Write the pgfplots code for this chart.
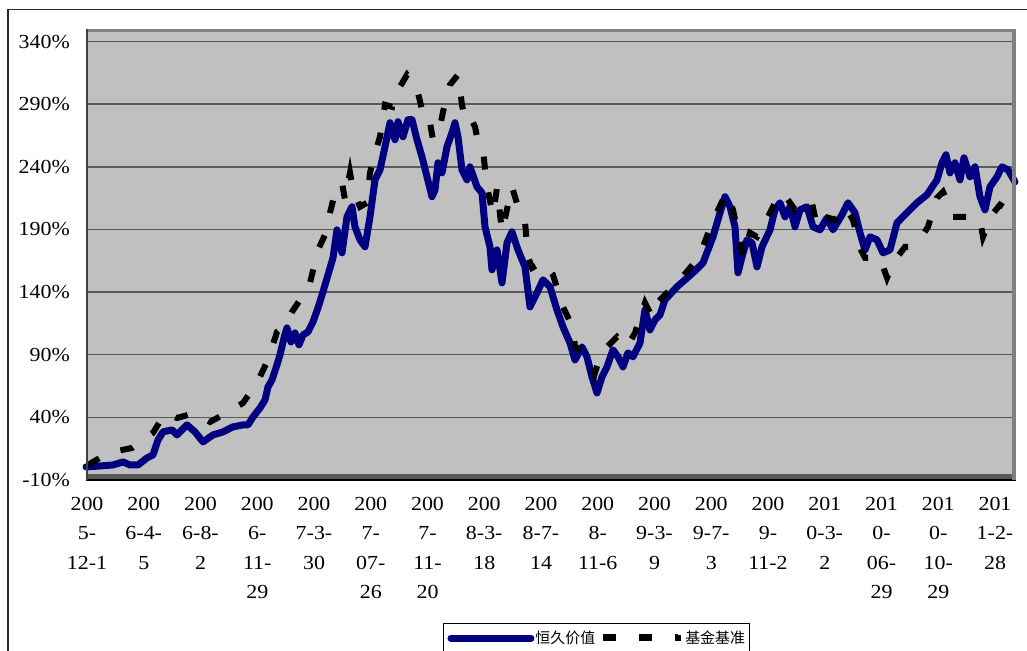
\documentclass[border=0pt]{standalone}
\usepackage{fontspec}
\setmainfont{Liberation Serif}[FakeStretch=1.1]
\newfontfamily\cjk{Noto Sans CJK SC}
\usepackage{pgfplots}
\pgfplotsset{compat=1.18}
\definecolor{navyline}{RGB}{0,0,128}
\definecolor{plotgray}{RGB}{192,192,192}
\definecolor{gridgray}{RGB}{90,90,90}
\definecolor{bordergray}{RGB}{128,128,128}
\definecolor{framegray}{RGB}{40,40,40}
\pgfplotsset{
  legimgblue/.style={legend image code/.code={\path (0bp,0bp) -- (80bp,0bp);\draw[##1, line width=6bp] (3bp,0bp) -- (77bp,0bp);}},
  legimgblack/.style={legend image code/.code={\path (0bp,0bp) -- (78bp,0bp);\draw[##1, line width=4bp] (0bp,2bp) -- (75bp,2bp);}},
}
\begin{document}
\begin{tikzpicture}
\useasboundingbox (0,0) rectangle (1027bp,651bp);
\draw[line width=1.3bp, framegray] (8bp,-20bp) -- (8bp,641.5bp) -- (1050bp,641.5bp);
\begin{axis}[
  at={(85.5bp,171bp)}, anchor=south west,
  scale only axis, width=930bp, height=451bp,
  xmin=-1.5, xmax=928.5, ymin=-10, ymax=350,
  clip=false,
  axis line style={draw=none},
  axis background/.style={fill=plotgray},
  xtick={0,56.75,113.5,170.25,227,283.75,340.5,397.25,454,510.75,567.5,624.25,681,737.75,794.5,851.25,908},
  xticklabels={{200\\5-\\12-1},{200\\6-4-\\5},{200\\6-8-\\2},{200\\6-\\11-\\29},{200\\7-3-\\30},{200\\7-\\07-\\26},{200\\7-\\11-\\20},{200\\8-3-\\18},{200\\8-7-\\14},{200\\8-\\11-6},{200\\9-3-\\9},{200\\9-7-\\3},{200\\9-\\11-2},{201\\0-3-\\2},{201\\0-\\06-\\29},{201\\0-\\10-\\29},{201\\1-2-\\28}},
  ytick={-10,40,90,140,190,240,290,340},
  yticklabels={-10\%,40\%,90\%,140\%,190\%,240\%,290\%,340\%},
  ymajorgrids,
  major grid style={gridgray, line width=1.5bp},
  major tick length=0pt,
  tick label style={font=\fontsize{20}{29.5}\selectfont},
  xticklabel style={align=center, anchor=north, inner sep=0pt, yshift=-17bp},
  yticklabel style={anchor=east, inner sep=0pt, xshift=-15.5bp},
  legend columns=2,
  legend style={at={(0.3844,-0.316)}, anchor=north west, draw=black, line width=1bp,
    fill=white, inner xsep=4bp, inner ysep=8bp,
    nodes={inner sep=0pt},
    font=\cjk\fontsize{15}{18}\selectfont,
    /tikz/every odd column/.style={column sep=1bp},
    /tikz/every even column/.style={column sep=5bp}},
]
\addplot[navyline, line width=7bp, line join=round, line cap=round, legimgblue] coordinates {
(-1,0.4) (13,1.2) (26,2.0) (36,4.4) (43,2.0) (51,2.0) (60,7.6) (66,10.0) (71,22.0) (76,28.4) (85,30.0) (90,26.0) (100,34.0) (108,28.4) (116,20.4) (126,26.0) (136,28.4) (146,32.4) (156,34.0) (161,34.0) (166,40.3) (173,47.5) (178,53.9) (181,64.3) (185,69.9) (189,79.5) (193,89.9) (197,103.4) (200,111.4) (204,100.2) (208,107.4) (212,97.9) (216,105.8) (221,108.2) (226,116.2) (231,127.4) (236,140.2) (241,153.8) (246,167.3) (250,189.7) (255,171.3) (260,200.1) (265,208.1) (268,192.1) (273,181.7) (278,176.1) (283,200.1) (288,229.6) (293,237.6) (298,256.0) (303,275.2) (308,261.6) (311,276.0) (316,264.0) (321,277.6) (325,277.6) (330,261.6) (335,248.0) (340,232.0) (345,216.1) (348,221.6) (351,243.2) (355,235.2) (360,256.0) (365,267.2) (368,275.2) (371,264.0) (375,237.6) (380,229.6) (383,240.0) (390,224.0) (395,219.2) (398,192.1) (403,176.1) (405,157.8) (410,173.7) (415,147.4) (420,179.3) (425,188.1) (431,173.7) (438,160.1) (443,128.2) (450,139.4) (456,149.8) (463,144.2) (470,125.8) (476,112.2) (483,99.4) (488,85.9) (495,96.3) (500,88.3) (505,72.3) (510,59.5) (515,72.3) (520,80.3) (526,93.9) (531,88.3) (536,80.3) (541,91.5) (546,88.3) (553,99.4) (558,125.8) (563,109.8) (568,117.8) (573,121.8) (578,133.8) (590,144.2) (606,155.4) (616,163.3) (626,184.1) (633,203.3) (638,216.1) (643,208.1) (648,192.1) (651,155.4) (655,168.1) (660,181.7) (665,179.3) (670,160.1) (675,176.1) (683,189.7) (688,205.7) (693,211.3) (698,200.1) (703,208.1) (708,192.1) (713,205.7) (720,208.1) (726,192.1) (733,189.7) (740,199.3) (746,189.7) (755,201.7) (761,211.3) (768,203.3) (773,187.3) (778,173.7) (783,184.1) (790,181.7) (796,171.3) (803,173.7) (810,195.3) (820,203.3) (830,211.3) (840,217.7) (850,229.6) (855,243.2) (859,249.6) (863,235.2) (868,243.2) (873,229.6) (877,247.2) (883,232.0) (888,240.0) (893,216.1) (898,205.7) (903,224.0) (910,232.0) (915,240.0) (921,237.6) (928,228.0)
};
\addlegendentry{恒久价值}
\addplot[black, line width=6bp, dash pattern=on 13bp off 23bp, legimgblack] coordinates {
(1,2.0) (21,11.6) (45,15.6) (66,27.6) (78,43.5) (90,39.5) (108,43.5) (123,36.3) (141,44.3) (156,51.5) (170,67.5) (181,85.9) (190,108.2) (198,113.8) (205,124.2) (213,133.8) (223,147.4) (231,173.7) (238,185.7) (243,203.3) (248,219.2) (255,227.2) (258,213.7) (263,235.2) (266,221.6) (273,208.1) (280,211.3) (283,235.2) (286,245.6) (293,264.0) (298,289.5) (305,287.9) (308,300.0) (313,303.9) (320,313.5) (326,307.9) (331,299.1) (338,275.2) (343,275.2) (346,261.6) (353,271.9) (356,283.9) (363,305.5) (371,313.5) (375,289.5) (378,277.6) (383,280.0) (388,271.9) (390,264.0) (396,253.6) (400,224.0) (406,201.7) (410,223.2) (415,188.1) (425,224.0) (431,208.1) (438,196.1) (441,168.1) (445,159.3) (456,164.1) (466,153.8) (475,129.8) (486,111.4) (488,96.3) (505,88.3) (508,75.5) (513,88.3) (520,96.3) (530,104.2) (540,96.3) (548,107.4) (558,131.4) (565,120.2) (571,132.2) (583,141.8) (593,149.8) (603,159.3) (608,164.1) (616,176.1) (625,195.3) (635,212.1) (639,219.2) (646,205.7) (651,187.3) (656,168.1) (663,187.3) (670,184.1) (681,200.1) (688,211.3) (696,219.2) (708,205.7) (718,213.7) (725,211.3) (730,192.1) (738,200.1) (748,197.7) (758,208.1) (766,197.7) (773,175.3) (778,167.3) (786,167.3) (793,167.3) (800,151.4) (806,163.3) (818,176.1) (823,176.1) (836,185.7) (841,192.1) (850,215.3) (856,220.0) (863,207.3) (866,200.1) (875,200.1) (885,200.1) (893,197.7) (896,184.1) (905,201.7) (913,209.7) (921,205.7) (928,208.1)
};
\addlegendentry{基金基准}
\fill[black!65] (rel axis cs:0,0) rectangle ([yshift=6bp]rel axis cs:1,0);
\draw[black, line width=1.2bp] (rel axis cs:0,0) -- (rel axis cs:1,0);
\draw[bordergray, line width=3.2bp] ([yshift=-1.5bp]rel axis cs:0,1) -- ([yshift=-1.5bp, xshift=-1.5bp]rel axis cs:1,1) -- ([xshift=-1.5bp]rel axis cs:1,0);
\draw[black!75, line width=2bp] ([xshift=1bp]rel axis cs:0,0) -- ([xshift=1bp]rel axis cs:0,1);
\end{axis}
\end{tikzpicture}
\end{document}
